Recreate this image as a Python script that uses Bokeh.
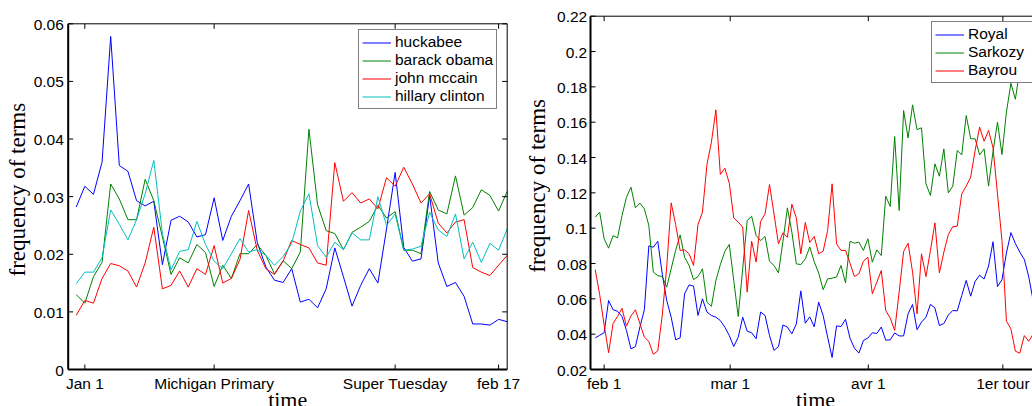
from math import pi
from bokeh.plotting import figure
from bokeh.models import Range1d, Legend, LegendItem
from bokeh.core.properties import value
from bokeh.layouts import row
from bokeh.embed import file_html
from bokeh.resources import INLINE

# ---------------- US primaries (left) ----------------
days_us = list(range(51))
huckabee = [0.0282, 0.0318, 0.0304, 0.0360, 0.0578, 0.0354, 0.0344, 0.0293, 0.0284, 0.0292,
            0.0182, 0.0259, 0.0266, 0.0256, 0.0230, 0.0234, 0.0298, 0.0224, 0.0266, 0.0293,
            0.0322, 0.0221, 0.0178, 0.0155, 0.0151, 0.0175, 0.0117, 0.0122, 0.0107, 0.0140,
            0.0211, 0.0161, 0.0110, 0.0146, 0.0175, 0.0150, 0.0244, 0.0342, 0.0212, 0.0188,
            0.0192, 0.0302, 0.0185, 0.0144, 0.0151, 0.0127, 0.0079, 0.0079, 0.0077, 0.0087,
            0.0083]
obama = [0.0130, 0.0115, 0.0161, 0.0186, 0.0322, 0.0296, 0.0260, 0.0260, 0.0330, 0.0293,
         0.0230, 0.0165, 0.0194, 0.0185, 0.0217, 0.0203, 0.0144, 0.0181, 0.0158, 0.0201,
         0.0201, 0.0217, 0.0198, 0.0166, 0.0189, 0.0175, 0.0204, 0.0417, 0.0286, 0.0241,
         0.0236, 0.0208, 0.0238, 0.0247, 0.0257, 0.0285, 0.0263, 0.0274, 0.0207, 0.0207,
         0.0201, 0.0309, 0.0277, 0.0270, 0.0336, 0.0268, 0.0281, 0.0312, 0.0302, 0.0275,
         0.0309]
mccain = [0.0094, 0.0120, 0.0115, 0.0158, 0.0184, 0.0180, 0.0171, 0.0143, 0.0185, 0.0247,
          0.0140, 0.0146, 0.0171, 0.0143, 0.0175, 0.0165, 0.0215, 0.0150, 0.0158, 0.0191,
          0.0276, 0.0207, 0.0175, 0.0165, 0.0188, 0.0224, 0.0217, 0.0211, 0.0185, 0.0181,
          0.0359, 0.0292, 0.0307, 0.0289, 0.0296, 0.0279, 0.0333, 0.0318, 0.0351, 0.0322,
          0.0289, 0.0305, 0.0254, 0.0237, 0.0256, 0.0260, 0.0177, 0.0169, 0.0163, 0.0181,
          0.0198]
clinton = [0.0149, 0.0169, 0.0169, 0.0194, 0.0277, 0.0252, 0.0225, 0.0260, 0.0305, 0.0363,
           0.0236, 0.0173, 0.0205, 0.0208, 0.0257, 0.0217, 0.0188, 0.0175, 0.0201, 0.0227,
           0.0204, 0.0208, 0.0198, 0.0181, 0.0196, 0.0219, 0.0275, 0.0305, 0.0215, 0.0195,
           0.0221, 0.0208, 0.0237, 0.0225, 0.0225, 0.0300, 0.0250, 0.0270, 0.0207, 0.0209,
           0.0214, 0.0273, 0.0242, 0.0231, 0.0270, 0.0192, 0.0221, 0.0186, 0.0219, 0.0207,
           0.0244]
us_names = ["huckabee", "barack obama", "john mccain", "hillary clinton"]
us_x_ticks = [1, 16, 37, 49]
us_x_labels = ["Jan 1", "Michigan Primary", "Super Tuesday", "feb 17"]
us_y_ticks = [0, 0.01, 0.02, 0.03, 0.04, 0.05, 0.06]
us_y_labels = ["0", "0.01", "0.02", "0.03", "0.04", "0.05", "0.06"]
us_xlim = (-0.93, 50.0)      # axes box limits
us_ylim = (0.0, 0.06)

# ---------------- French election (right) ----------------
days_fr = list(range(99))
royal = [0.0379, 0.0394, 0.0408, 0.0591, 0.0538, 0.0530, 0.0500, 0.0421, 0.0317, 0.0330,
         0.0440, 0.0538, 0.0900, 0.0892, 0.0926, 0.0741, 0.0591, 0.0496, 0.0368, 0.0379,
         0.0628, 0.0679, 0.0672, 0.0506, 0.0600, 0.0525, 0.0506, 0.0496, 0.0477, 0.0440,
         0.0392, 0.0330, 0.0383, 0.0496, 0.0417, 0.0408, 0.0374, 0.0525, 0.0506, 0.0392,
         0.0308, 0.0330, 0.0452, 0.0440, 0.0402, 0.0458, 0.0645, 0.0462, 0.0498, 0.0442,
         0.0581, 0.0505, 0.0383, 0.0268, 0.0447, 0.0443, 0.0484, 0.0378, 0.0320, 0.0293,
         0.0364, 0.0378, 0.0408, 0.0404, 0.0440, 0.0366, 0.0368, 0.0407, 0.0390, 0.0390,
         0.0515, 0.0568, 0.0425, 0.0468, 0.0496, 0.0569, 0.0548, 0.0449, 0.0460, 0.0508,
         0.0534, 0.0532, 0.0619, 0.0704, 0.0615, 0.0699, 0.0734, 0.0712, 0.0786, 0.0923,
         0.0669, 0.0708, 0.0860, 0.0975, 0.0913, 0.0864, 0.0823, 0.0724, 0.0586]
sarkozy = [0.1062, 0.1091, 0.0940, 0.0887, 0.0958, 0.0945, 0.1072, 0.1175, 0.1232, 0.1115,
           0.1142, 0.1109, 0.1015, 0.0751, 0.0732, 0.0726, 0.0666, 0.0770, 0.0874, 0.0962,
           0.0836, 0.0789, 0.0709, 0.0726, 0.0770, 0.0581, 0.0558, 0.0704, 0.0794, 0.0868,
           0.0908, 0.0704, 0.0500, 0.0770, 0.1043, 0.1068, 0.0958, 0.0930, 0.0953, 0.0813,
           0.0789, 0.0747, 0.0925, 0.1115, 0.0977, 0.0798, 0.0794, 0.0826, 0.0894, 0.0810,
           0.0746, 0.0652, 0.0713, 0.0717, 0.0724, 0.0789, 0.0690, 0.0926, 0.0915, 0.0921,
           0.0874, 0.0940, 0.0808, 0.0877, 0.0845, 0.1181, 0.1123, 0.1519, 0.1100, 0.1666,
           0.1511, 0.1698, 0.1558, 0.1568, 0.1251, 0.1185, 0.1364, 0.1294, 0.1449, 0.1200,
           0.1238, 0.1440, 0.1415, 0.1638, 0.1506, 0.1506, 0.1415, 0.1449, 0.1238, 0.1434,
           0.1600, 0.1417, 0.1657, 0.1820, 0.1730, 0.1900, 0.2000, 0.2050, 0.1900]
bayrou = [0.0766, 0.0624, 0.0453, 0.0295, 0.0460, 0.0500, 0.0546, 0.0445, 0.0503, 0.0538,
          0.0460, 0.0383, 0.0359, 0.0286, 0.0305, 0.0506, 0.0779, 0.1143, 0.1021, 0.0874,
          0.0877, 0.0855, 0.0789, 0.1021, 0.1091, 0.1360, 0.1487, 0.1670, 0.1304, 0.1340,
          0.1255, 0.1058, 0.1034, 0.1006, 0.0638, 0.0926, 0.0808, 0.1038, 0.1081, 0.1247,
          0.1081, 0.0911, 0.0974, 0.0949, 0.1136, 0.1058, 0.0855, 0.1032, 0.0919, 0.0953,
          0.0855, 0.0870, 0.0987, 0.1251, 0.0911, 0.0874, 0.0874, 0.0802, 0.0726, 0.0742,
          0.0813, 0.0836, 0.0628, 0.0694, 0.0760, 0.0534, 0.0491, 0.0421, 0.0638, 0.0868,
          0.0915, 0.0751, 0.0515, 0.0855, 0.0726, 0.0874, 0.1030, 0.0747, 0.0864, 0.0964,
          0.1009, 0.1011, 0.1194, 0.1238, 0.1289, 0.1440, 0.1572, 0.1492, 0.1553, 0.1455,
          0.1194, 0.0930, 0.0474, 0.0430, 0.0304, 0.0292, 0.0392, 0.0360, 0.0402]
fr_names = ["Royal", "Sarkozy", "Bayrou"]
fr_x_ticks = [2, 30.2, 61.1, 91.2]
fr_x_labels = ["feb 1", "mar 1", "avr 1", "1er tour"]
fr_y_ticks = [0.02, 0.04, 0.06, 0.08, 0.1, 0.12, 0.14, 0.16, 0.18, 0.2, 0.22]
fr_y_labels = ["0.02", "0.04", "0.06", "0.08", "0.1", "0.12", "0.14", "0.16", "0.18", "0.2", "0.22"]
fr_xlim = (-1.05, 99.6)      # axes box runs past the right edge of the picture
fr_ylim = (0.02, 0.22)

y_title = "frequency of terms"
x_title = "time"

TICK_FONT = "Liberation Sans"
TITLE_FONT = "Liberation Serif"
BLUE, GREEN, RED, CYAN = "#0000ff", "#008000", "#ff0000", "#00bfbf"
H = 406


def make_fig(width, x_range, y_range):
    p = figure(width=width, height=H, x_range=x_range, y_range=y_range,
               x_axis_type=None, y_axis_type=None, output_backend="svg",
               toolbar_location=None, title_location=None, min_border=0,
               min_border_left=0, min_border_right=0, min_border_top=0,
               min_border_bottom=0)
    p.outline_line_color = None
    p.background_fill_color = "white"
    p.border_fill_color = "white"
    return p


def draw_axes(p, xlim, ylim, xticks, xlabels, yticks, ylabels, right_side,
              ylab_dx, tick_dx):
    (xa, xb), (ya, yb) = xlim, ylim
    k = "black"
    # box
    p.line([xa, xb], [ya, ya], line_color=k, line_width=2)
    p.line([xa, xa], [ya, yb], line_color=k, line_width=2)
    p.line([xa, xb], [yb, yb], line_color=k, line_width=1)
    if right_side:
        p.line([xb, xb], [ya, yb], line_color=k, line_width=1)
    # inward ticks
    p.ray(xticks, [ya] * len(xticks), length=5, length_units="screen", angle=pi / 2,
          line_color=k, line_width=1)
    p.ray(xticks, [yb] * len(xticks), length=5, length_units="screen", angle=-pi / 2,
          line_color=k, line_width=1)
    p.ray([xa] * len(yticks), yticks, length=5, length_units="screen", angle=0,
          line_color=k, line_width=1)
    if right_side:
        p.ray([xb] * len(yticks), yticks, length=5, length_units="screen", angle=pi,
              line_color=k, line_width=1)
    # tick labels
    p.text(x=xticks, y=[ya] * len(xticks), text=xlabels, text_align="center",
           text_baseline="alphabetic", y_offset=14, text_font=value(TICK_FONT),
           text_font_size=value("15.5px"), text_color=k)
    p.text(x=[xa] * len(yticks), y=yticks, text=ylabels, text_align="right",
           text_baseline="alphabetic", x_offset=tick_dx, y_offset=1,
           text_font=value(TICK_FONT), text_font_size=value("15.5px"), text_color=k)
    # axis titles
    p.text(x=[(xa + xb) / 2], y=[ya], text=[x_title], text_align="center",
           text_baseline="alphabetic", y_offset=30, text_font=value(TITLE_FONT),
           text_font_size=value("22px"), text_color=k)
    p.text(x=[xa], y=[(ya + yb) / 2], text=[y_title], angle=pi / 2, text_align="center",
           text_baseline="alphabetic", x_offset=ylab_dx, y_offset=-7,
           text_font=value(TITLE_FONT), text_font_size=value("23px"), text_color=k)


def make_legend(items, loc, label_width):
    return Legend(items=items, location=loc, margin=0, padding=3, spacing=0,
                  glyph_width=29, glyph_height=17, label_height=17, label_standoff=4,
                  label_width=label_width,
                  label_text_font=TICK_FONT, label_text_font_size="15.5px",
                  label_text_color="black", border_line_color="black",
                  border_line_width=1.2, background_fill_color="white",
                  background_fill_alpha=1.0)


# ---- left figure: canvas 0..520 px; box 67.7..506.7 px wide, 23.3..369 px high ----
px_us = (us_xlim[1] - us_xlim[0]) / (506.7 - 67.7)
py_us = (us_ylim[1] - us_ylim[0]) / (369.0 - 23.3)
p1 = make_fig(520,
              Range1d(us_xlim[0] - 67.7 * px_us, us_xlim[1] + (520 - 506.7) * px_us),
              Range1d(us_ylim[0] - (H - 369.0) * py_us, us_ylim[1] + 23.3 * py_us))
r_us = []
for ys, c in zip([huckabee, obama, mccain, clinton], [BLUE, GREEN, RED, CYAN]):
    r_us.append(p1.line(days_us, ys, line_color=c, line_width=1))
draw_axes(p1, us_xlim, us_ylim, us_x_ticks, us_x_labels, us_y_ticks, us_y_labels,
          True, -51.0, -4.4)
p1.add_layout(make_legend([LegendItem(label=n, renderers=[r]) for n, r in zip(us_names, r_us)],
                          (358, 297), 20))

# ---- right figure: canvas 520..1032 px; box starts at 590 px, 15.7..369 px high ----
px_fr = 1.0 / 4.47
py_fr = (fr_ylim[1] - fr_ylim[0]) / (369.0 - 15.7)
p2 = make_fig(512,
              Range1d(fr_xlim[0] - (590 - 520) * px_fr, fr_xlim[0] + (1032 - 590) * px_fr),
              Range1d(fr_ylim[0] - (H - 369.0) * py_fr, fr_ylim[1] + 15.7 * py_fr))
r_fr = []
for ys, c in zip([royal, sarkozy, bayrou], [BLUE, GREEN, RED]):
    r_fr.append(p2.line(days_fr, ys, line_color=c, line_width=1))
draw_axes(p2, fr_xlim, fr_ylim, fr_x_ticks, fr_x_labels, fr_y_ticks, fr_y_labels,
          False, -53.3, -3.3)
p2.add_layout(make_legend([LegendItem(label=n, renderers=[r]) for n, r in zip(fr_names, r_fr)],
                          (411, 323), 75))

layout = row(p1, p2)
open("out.html", "w").write(file_html(layout, INLINE))
